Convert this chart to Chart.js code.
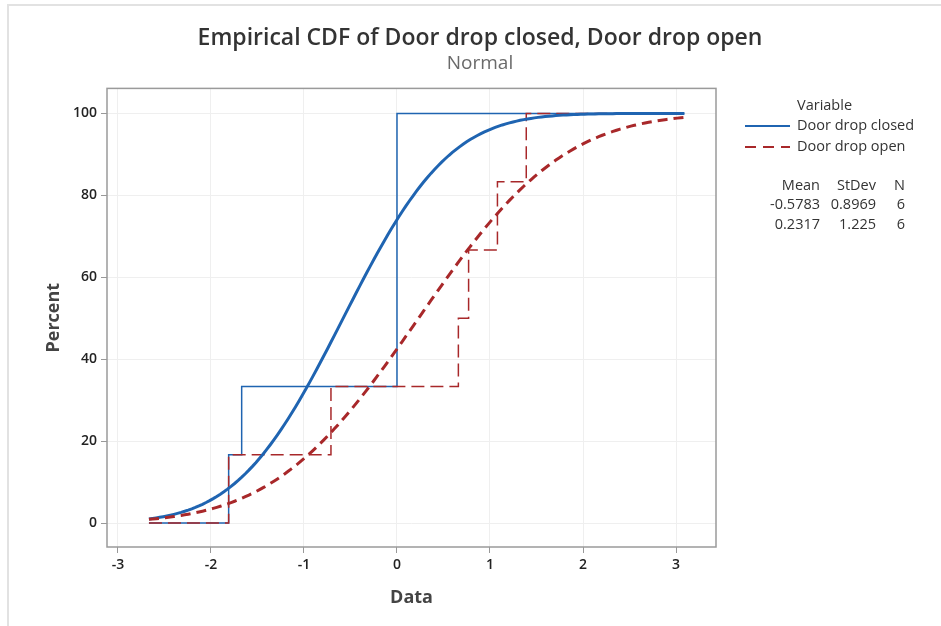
<!DOCTYPE html>
<html>
<head>
<meta charset="utf-8">
<title>Empirical CDF</title>
<script src="https://cdn.jsdelivr.net/npm/chart.js@4.4.1/dist/chart.umd.min.js"></script>
<style>
  html, body { margin: 0; padding: 0; background: #fff; }
  #wrap { position: relative; width: 941px; height: 626px; }
  #frame {
    position: absolute; left: 7px; top: 4px; right: 0; bottom: 0;
    border-left: 2px solid #e2e2e2; border-top: 2px solid #e2e2e2;
    pointer-events: none;
  }
</style>
</head>
<body>
<div id="wrap">
  <canvas id="cdf" width="941" height="626"></canvas>
  <div id="frame"></div>
</div>
<script>
// sample values (sorted) for each variable
const seriesNames = ['Door drop closed', 'Door drop open'];
const closedValues = [-1.81, -1.67, 0, 0, 0, 0];
const openValues = [-1.81, -0.71, 0.66, 0.77, 1.08, 1.39];

// fitted normal parameters, as printed in the legend table
const fitMeans = [-0.5783, 0.2317];
const fitStDevs = [0.8969, 1.225];
const sampleSizes = [6, 6];

const xTicks = [-3, -2, -1, 0, 1, 2, 3];
const yTicks = [0, 20, 40, 60, 80, 100];
const xSpan = [-2.667, 3.09];

const BLUE = '#1f64b1';
const RED = '#a8282a';
const FONT = "'Open Sans', 'Segoe UI', sans-serif";

// step points of the empirical cdf
function ecdfPoints(values) {
    let n = values.length;
    let pts = [{x: xSpan[0], y: 0}];
    values.forEach((v, i) => pts.push({x: v, y: (i + 1) / n * 100}));
    pts.push({x: xSpan[1], y: 100});
    return pts;
}

// normal cdf via erf approximation (A&S 7.1.26)
function normCdf(x, mu, sd) {
    let z = (x - mu) / (sd * Math.SQRT2);
    let t = 1 / (1 + 0.3275911 * Math.abs(z));
    let e = 1 - (((((1.061405429 * t - 1.453152027) * t) + 1.421413741) * t
        - 0.284496736) * t + 0.254829592) * t * Math.exp(-z * z);
    return 50 * (1 + (z >= 0 ? e : -e));
}

function fitPoints(mu, sd) {
    let pts = [];
    let steps = 150;
    for (let i = 0; i <= steps; i++) {
        let x = xSpan[0] + (xSpan[1] - xSpan[0]) * i / steps;
        pts.push({x: x, y: normCdf(x, mu, sd)});
    }
    return pts;
}

const datasets = [
    {
        data: ecdfPoints(closedValues), stepped: 'before',
        borderColor: BLUE, borderWidth: 1.5, order: 4
    },
    {
        data: ecdfPoints(openValues), stepped: 'before',
        borderColor: RED, borderWidth: 1.5, borderDash: [13, 6], order: 3
    },
    {
        data: fitPoints(fitMeans[0], fitStDevs[0]),
        borderColor: BLUE, borderWidth: 3, order: 2
    },
    {
        data: fitPoints(fitMeans[1], fitStDevs[1]),
        borderColor: RED, borderWidth: 3, borderDash: [10, 6], order: 1
    }
];
datasets.forEach(d => { d.pointRadius = 0; d.fill = false; });

// grey box round the data region
const frameBox = {
    id: 'frameBox',
    afterDatasetsDraw(chart) {
        const a = chart.chartArea;
        const c = chart.ctx;
        c.save();
        c.strokeStyle = '#9a9a9a';
        c.lineWidth = 1.5;
        c.strokeRect(a.left, a.top, a.right - a.left, a.bottom - a.top);
        c.restore();
    }
};

// legend with the fit statistics table
const statLegend = {
    id: 'statLegend',
    afterDraw(chart) {
        const c = chart.ctx;
        c.save();
        c.font = '14.5px ' + FONT;
        c.fillStyle = '#333';
        c.textBaseline = 'middle';
        c.textAlign = 'left';
        c.fillText('Variable', 797, 106);

        const rows = [126, 147];
        const colors = [BLUE, RED];
        const dashes = [[], [11, 7]];
        rows.forEach((y, i) => {
            c.beginPath();
            c.strokeStyle = colors[i];
            c.lineWidth = 1.8;
            c.setLineDash(dashes[i]);
            c.moveTo(745, y);
            c.lineTo(790, y);
            c.stroke();
            c.setLineDash([]);
            c.fillText(seriesNames[i], 797, y);
        });

        c.textAlign = 'right';
        c.fillText('Mean', 820, 186);
        c.fillText('StDev', 876, 186);
        c.fillText('N', 905, 186);
        [205, 225].forEach((y, i) => {
            c.fillText(String(fitMeans[i]), 820, y);
            c.fillText(String(fitStDevs[i]), 876, y);
            c.fillText(String(sampleSizes[i]), 905, y);
        });
        c.restore();
    }
};

const ctx = document.getElementById('cdf').getContext('2d');
new Chart(ctx, {
    type: 'scatter',
    data: {datasets: datasets},
    options: {
        responsive: false,
        animation: false,
        showLine: true,
        layout: {padding: {left: 19, right: 0, top: 0, bottom: 0}},
        plugins: {
            legend: {display: false},
            tooltip: {enabled: false},
            title: {
                display: true,
                text: 'Empirical CDF of Door drop closed, Door drop open',
                color: '#333',
                font: {family: FONT, size: 23, weight: '600'},
                padding: {top: 25, bottom: 0}
            },
            subtitle: {
                display: true,
                text: 'Normal',
                color: '#6a6a6a',
                font: {family: FONT, size: 19, weight: 'normal'},
                padding: {top: 0, bottom: 13}
            }
        },
        scales: {
            x: {
                type: 'linear',
                min: -3.118, max: 3.43,
                afterBuildTicks: s => { s.ticks = xTicks.map(v => ({value: v})); },
                afterFit: s => { s.height = 79; },
                grid: {color: '#efefef', tickColor: '#999', tickLength: 6},
                border: {display: false},
                ticks: {color: '#222', padding: 4, font: {family: FONT, size: 14, weight: '600'}},
                title: {
                    display: true, text: 'Data', color: '#444',
                    font: {family: FONT, size: 18, weight: 'bold'},
                    padding: {top: 0, bottom: 17}
                }
            },
            y: {
                type: 'linear',
                min: -5.85, max: 106.1,
                afterBuildTicks: s => { s.ticks = yTicks.map(v => ({value: v})); },
                afterFit: s => { s.width = 88; },
                grid: {color: '#efefef', tickColor: '#999', tickLength: 6},
                border: {display: false},
                ticks: {color: '#222', padding: 4, font: {family: FONT, size: 14, weight: '600'}},
                title: {
                    display: true, text: 'Percent', color: '#444',
                    font: {family: FONT, size: 18, weight: 'bold'},
                    padding: {top: 24, bottom: 0}
                }
            },
            // empty right-hand band that holds the legend
            side: {
                type: 'linear',
                position: 'right',
                afterFit: s => { s.width = 225; },
                grid: {display: false},
                border: {display: false},
                ticks: {display: false}
            }
        }
    },
    plugins: [frameBox, statLegend]
});
</script>
</body>
</html>
